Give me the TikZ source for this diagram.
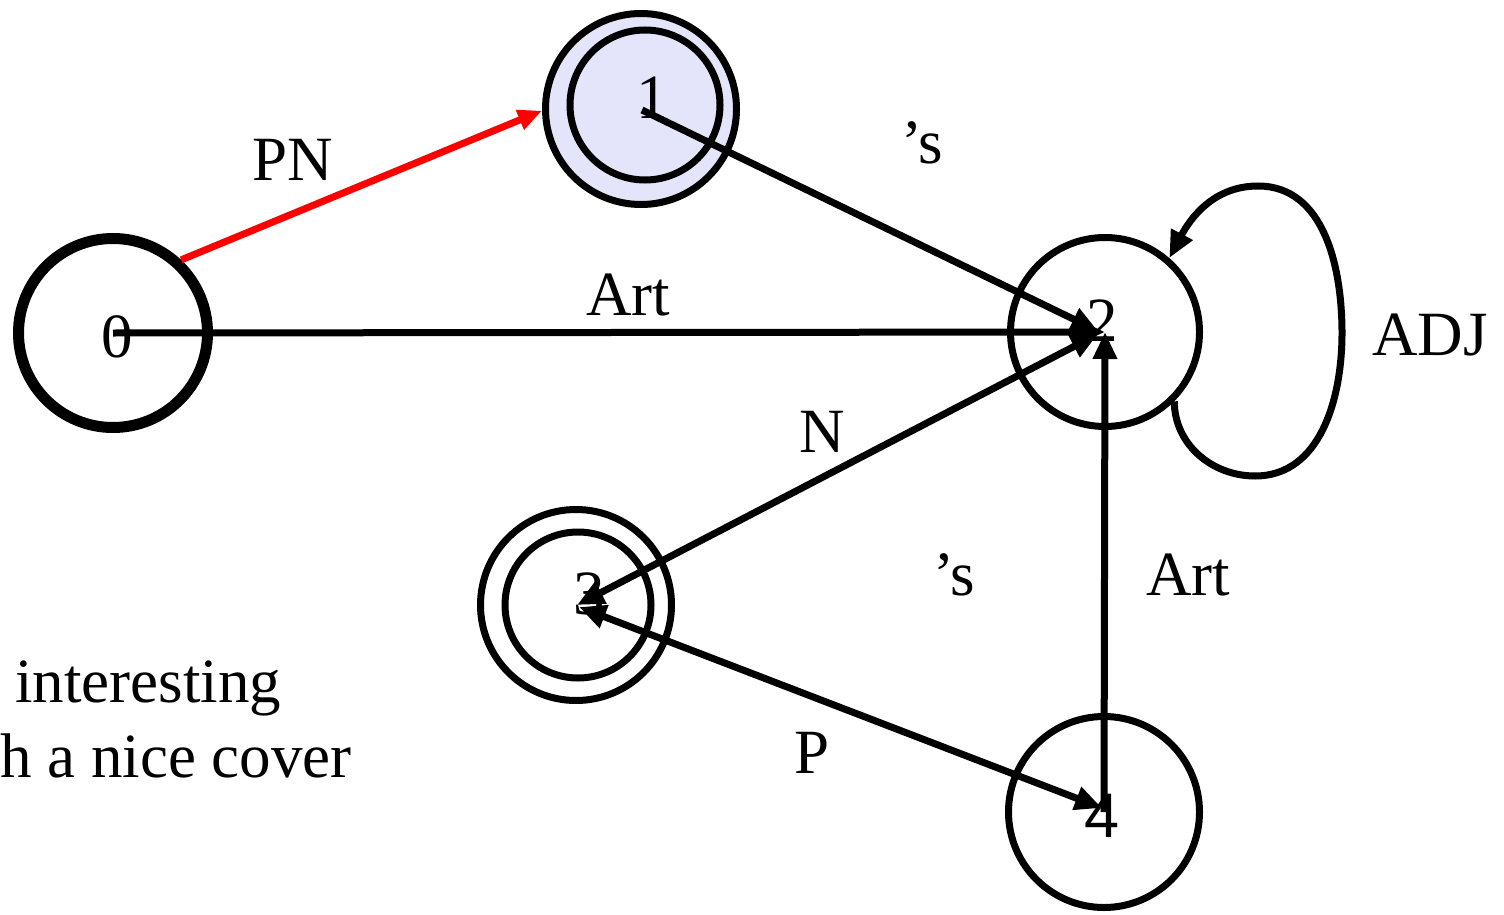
\documentclass[tikz,border=0pt]{standalone}
\usepackage{fontspec}
\setmainfont{Liberation Serif}
\newfontfamily\sansdigit{Liberation Sans}
\usetikzlibrary{arrows.meta}
\definecolor{lav}{RGB}{228,228,250}
\begin{document}
\begin{tikzpicture}[x=1pt,y=-1pt,
  state/.style={circle,draw=black,line width=7pt,inner sep=0pt,minimum size=190pt},
  edge/.style={line width=7pt,-{Triangle[length=27pt,width=23pt]}},
  dedge/.style={line width=7pt,{Triangle[length=27pt,width=23pt]}-{Triangle[length=27pt,width=23pt]}},
  lbl/.style={anchor=base,inner sep=0pt,font=\fontsize{63}{75}\selectfont}]
\useasboundingbox (0,0) rectangle (1504,915);
% states
\node[state,line width=11pt,minimum size=189pt] (n0) at (113,333) {};
\node[state,fill=lav,minimum size=191pt] (n1) at (641,109) {};
\node[state,minimum size=150pt] (n1in) at (645,105) {};
\node[state,minimum size=189pt] (n2) at (1105,332) {};
\node[state,minimum size=191pt] (n3) at (576,605) {};
\node[state,minimum size=146pt] (n3in) at (578,605) {};
\node[state,minimum size=191pt] (n4) at (1104,812) {};
% state labels
\node[lbl] (t0) at (117,357) {0};
\node[lbl] (t1) at (652,119) {1};
\node[lbl] (t2) at (1102,341) {2};
\node[lbl] (t3) at (589,614) {3};
\node[lbl,font=\fontsize{63}{75}\sansdigit] (t4) at (1102,837) {4};
% edges
\draw[edge,red,-{Triangle[length=24pt,width=20pt]}] (n0.47) -- (n1.181);
\draw[edge] (n0.center) -- (n2.center);
\draw[edge] (n1in.center) ++(-3,5) coordinate (s1) (s1) -- (1098,331);
\draw[dedge] (577,605) -- (1098,334);
\draw[dedge] (579,607) -- (1102,808);
\draw[edge] (n4.center) -- (n2.center);
% self loop
\draw[edge] (n2.-45) to[out=-90,in=180] (1255,476) to[out=0,in=-90] (1342,333)
  to[out=90,in=0] (1258,186) to[out=180,in=62] (n2.49);
% edge labels
\node[lbl] (lpn) at (293,180) {PN};
\node[lbl] (ls1) at (922,163) {’s};
\node[lbl] (lart1) at (628,315) {Art};
\node[lbl] (ladj) at (1430,355) {ADJ};
\node[lbl] (ln) at (822,452) {N};
\node[lbl] (ls2) at (954,595) {’s};
\node[lbl] (lart2) at (1188,595) {Art};
\node[lbl] (lp) at (812,773) {P};
% left text
\node[lbl,anchor=base west] (txt1) at (15,702) {interesting};
\node[lbl,anchor=base west] (txt2) at (0,777) {h a nice cover};
\end{tikzpicture}
\end{document}
